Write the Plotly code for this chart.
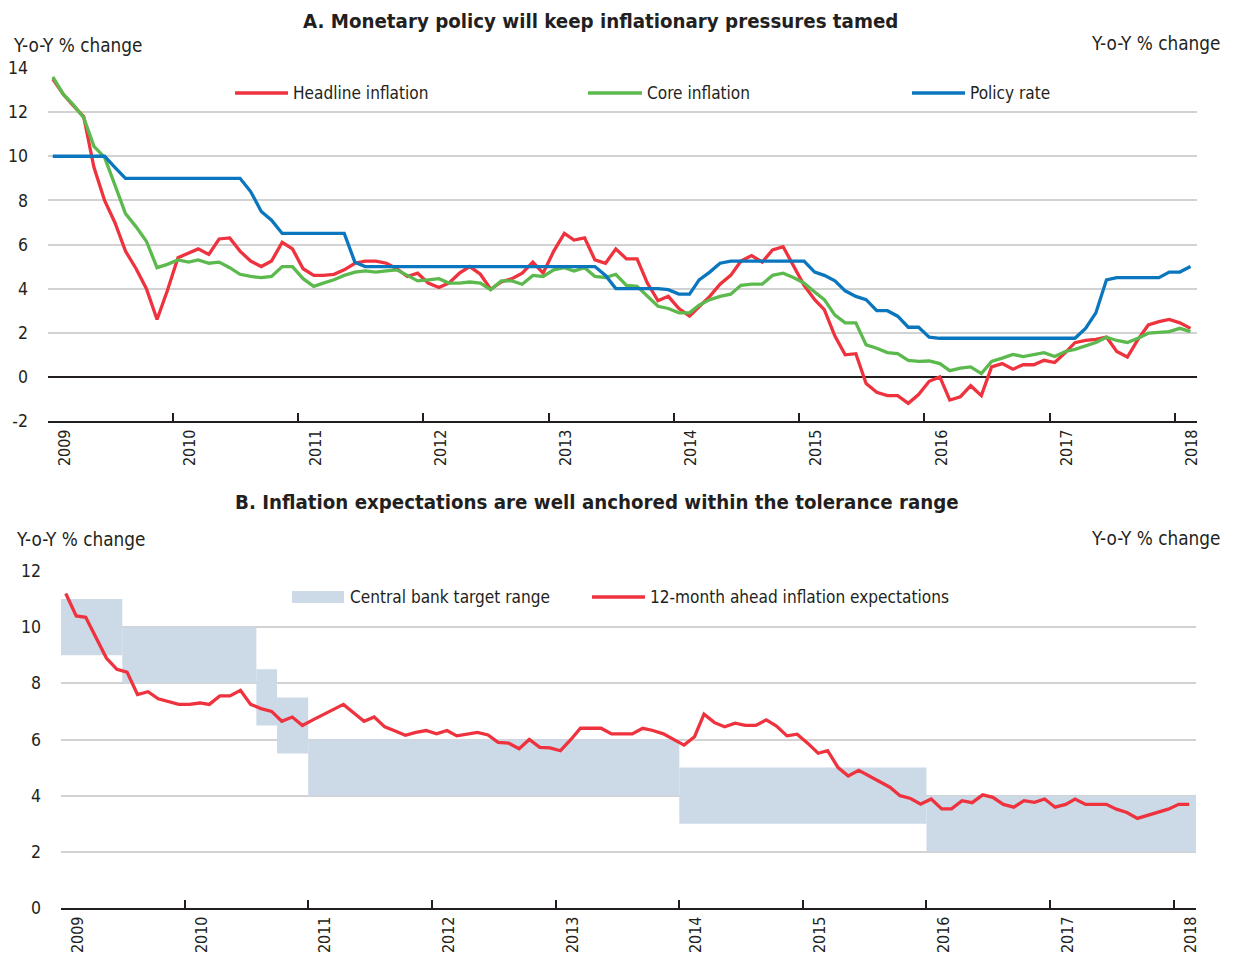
import pandas as pd
import plotly.graph_objects as go

# ---------------------------------------------------------------- data
months = pd.date_range("2009-01-01", "2018-02-01", freq="MS") + pd.Timedelta(days=14)

headline = [13.5, 12.8, 12.3, 11.8, 9.5, 8.0, 7.0, 5.7, 4.9, 4.0, 2.6, 3.9,
            5.4, 5.6, 5.8, 5.55, 6.25, 6.3, 5.7, 5.25, 5.0, 5.25, 6.1, 5.8,
            4.9, 4.6, 4.6, 4.65, 4.85, 5.15, 5.25, 5.25, 5.15, 4.9, 4.55, 4.7,
            4.25, 4.05, 4.25, 4.7, 5.0, 4.65, 3.97, 4.3, 4.45, 4.7, 5.2, 4.7,
            5.7, 6.5, 6.2, 6.3, 5.3, 5.15, 5.8, 5.35, 5.35, 4.25, 3.45, 3.65,
            3.1, 2.75, 3.2, 3.65, 4.2, 4.6, 5.25, 5.5, 5.2, 5.75, 5.9, 5.0,
            4.15, 3.5, 3.05, 1.85, 1.0, 1.05, -0.3, -0.7, -0.85, -0.85, -1.2, -0.8,
            -0.2, 0.0, -1.05, -0.9, -0.4, -0.85, 0.45, 0.6, 0.35, 0.55, 0.55, 0.75,
            0.65, 1.1, 1.55, 1.65, 1.7, 1.8, 1.15, 0.9, 1.7, 2.35, 2.5, 2.6,
            2.45, 2.2]

core = [13.6, 12.8, 12.35, 11.75, 10.45, 9.95, 8.7, 7.4, 6.8, 6.15, 4.95, 5.1,
        5.3, 5.2, 5.3, 5.15, 5.2, 4.95, 4.65, 4.55, 4.5, 4.55, 5.0, 5.0,
        4.45, 4.1, 4.25, 4.4, 4.6, 4.75, 4.8, 4.75, 4.8, 4.85, 4.6, 4.35,
        4.4, 4.45, 4.25, 4.25, 4.3, 4.25, 3.95, 4.35, 4.35, 4.2, 4.6, 4.55,
        4.85, 4.95, 4.8, 4.95, 4.55, 4.5, 4.65, 4.15, 4.1, 3.65, 3.2, 3.1,
        2.9, 2.9, 3.25, 3.5, 3.65, 3.75, 4.15, 4.2, 4.2, 4.6, 4.7, 4.5,
        4.25, 3.85, 3.5, 2.8, 2.45, 2.45, 1.45, 1.3, 1.1, 1.05, 0.75, 0.7,
        0.72, 0.6, 0.28, 0.4, 0.45, 0.15, 0.7, 0.85, 1.02, 0.92, 1.02, 1.1,
        0.92, 1.15, 1.25, 1.42, 1.56, 1.8, 1.65, 1.56, 1.75, 1.98, 2.02, 2.05,
        2.2, 2.05]

policy = [10.0, 10.0, 10.0, 10.0, 10.0, 10.0, 9.5, 9.0, 9.0, 9.0, 9.0, 9.0,
          9.0, 9.0, 9.0, 9.0, 9.0, 9.0, 9.0, 8.4, 7.5, 7.1, 6.5, 6.5,
          6.5, 6.5, 6.5, 6.5, 6.5, 5.2, 5.0, 5.0, 5.0, 5.0, 5.0, 5.0,
          5.0, 5.0, 5.0, 5.0, 5.0, 5.0, 5.0, 5.0, 5.0, 5.0, 5.0, 5.0,
          5.0, 5.0, 5.0, 5.0, 5.0, 4.6, 4.0, 4.0, 4.0, 4.0, 4.0, 3.95,
          3.75, 3.75, 4.4, 4.75, 5.15, 5.25, 5.25, 5.25, 5.25, 5.25, 5.25, 5.25,
          5.25, 4.75, 4.6, 4.35, 3.9, 3.65, 3.5, 3.0, 3.0, 2.75, 2.25, 2.25,
          1.8, 1.75, 1.75, 1.75, 1.75, 1.75, 1.75, 1.75, 1.75, 1.75, 1.75, 1.75,
          1.75, 1.75, 1.75, 2.2, 2.9, 4.4, 4.5, 4.5, 4.5, 4.5, 4.5, 4.75,
          4.75, 5.0]

expectations = [11.2, 10.4, 10.35, 9.6, 8.9, 8.5, 8.4, 7.6, 7.7, 7.45, 7.35, 7.25,
                7.25, 7.3, 7.25, 7.55, 7.55, 7.75, 7.25, 7.1, 7.0, 6.65, 6.8, 6.5,
                6.7, 6.9, 7.05, 7.25, 6.95, 6.65, 6.8, 6.45, 6.3, 6.15, 6.25, 6.32,
                6.2, 6.32, 6.13, 6.2, 6.25, 6.16, 5.9, 5.87, 5.67, 6.0, 5.72, 5.7,
                5.6, 6.0, 6.4, 6.4, 6.4, 6.2, 6.2, 6.2, 6.4, 6.32, 6.2, 6.0,
                5.8, 6.1, 6.9, 6.6, 6.45, 6.58, 6.5, 6.5, 6.7, 6.48, 6.13, 6.19,
                5.87, 5.51, 5.6, 5.0, 4.7, 4.9, 4.7, 4.5, 4.3, 4.0, 3.9, 3.7,
                3.88, 3.53, 3.53, 3.82, 3.75, 4.03, 3.94, 3.69, 3.59, 3.82, 3.76, 3.88,
                3.59, 3.69, 3.88, 3.69, 3.69, 3.69, 3.52, 3.4, 3.19, 3.29, 3.41, 3.52,
                3.69, 3.69]

# central bank target range: start, end, lower and upper bound
band_start = ["2009-01-01", "2009-07-01", "2010-08-01", "2010-10-01",
              "2011-01-01", "2014-01-01", "2016-01-01"]
band_end = ["2009-07-01", "2010-08-01", "2010-10-01", "2011-01-01",
            "2014-01-01", "2016-01-01", "2018-03-07"]
band_low = [9, 8, 6.5, 5.5, 4, 3, 2]
band_high = [11, 10, 8.5, 7.5, 6, 5, 4]

years = list(range(2009, 2019))
year_ticks = [f"{y}-01-01" for y in years]
year_labels = [str(y) for y in years]

ticks_a = [-2, 0, 2, 4, 6, 8, 10, 12, 14]
ticks_b = [0, 2, 4, 6, 8, 10, 12]

# ---------------------------------------------------------------- style
W, H = 1237, 953
FONT = "DejaVu Sans Condensed, Liberation Sans Narrow, Arial Narrow, sans-serif"
TXT = "#231f20"
RED, GREEN, BLUE, BAND = "#ee323e", "#5cb94e", "#0a76bd", "#ccdae8"
GRID = "#d2d2d2"
XTICK_SIZE = 16
YTICK_SIZE = 17.5


def px(x):
    return x / W


def py(y):
    return 1 - y / H


fig = go.Figure()

# ---------------------------------------------------------------- panel A
for name, vals, col in [("Headline inflation", headline, RED),
                        ("Core inflation", core, GREEN),
                        ("Policy rate", policy, BLUE)]:
    fig.add_trace(go.Scatter(x=months, y=vals, name=name, mode="lines",
                             line=dict(color=col, width=3.3),
                             xaxis="x", yaxis="y", showlegend=False))

# ---------------------------------------------------------------- panel B
s = pd.to_datetime(band_start)
e = pd.to_datetime(band_end)
mid = s + (e - s) / 2
widths = [(b - a).total_seconds() * 1000 for a, b in zip(s, e)]
fig.add_trace(go.Bar(x=mid, y=[h - l for h, l in zip(band_high, band_low)],
                     base=band_low, width=widths, marker=dict(color=BAND, line=dict(width=0)),
                     name="Central bank target range", xaxis="x2", yaxis="y2",
                     showlegend=False))
fig.add_trace(go.Scatter(x=months, y=expectations, mode="lines",
                         name="12-month ahead inflation expectations",
                         line=dict(color=RED, width=3.3),
                         xaxis="x2", yaxis="y2", showlegend=False))

xfont = dict(family=FONT, size=XTICK_SIZE, color=TXT)
yfont = dict(family=FONT, size=YTICK_SIZE, color=TXT)
xcommon = dict(type="date", tickmode="array", tickvals=year_ticks, ticktext=year_labels,
               tickangle=-90, ticks="inside", ticklen=8, tickwidth=2, tickcolor=TXT,
               showline=True, linecolor=TXT, linewidth=2.2, showgrid=False,
               zeroline=False, ticklabelshift=17, ticklabelstandoff=0,
               tickfont=xfont, fixedrange=True, automargin=False)
ycommon = dict(tickmode="array", showgrid=True, gridcolor=GRID, gridwidth=1.6,
               ticks="", showline=False, tickfont=yfont, fixedrange=True,
               automargin=False)
yright = dict(tickmode="array", showgrid=False, zeroline=False, ticks="",
              showline=False, ticklabelstandoff=17, tickfont=yfont,
              fixedrange=True, automargin=False)
lab_a = [str(v) for v in ticks_a]
lab_b = [str(v) for v in ticks_b]

fig.update_layout(
    template="none",
    width=W, height=H, margin=dict(l=0, r=0, t=0, b=0, pad=0), autosize=False,
    paper_bgcolor="white", plot_bgcolor="white",
    font=dict(family=FONT, color=TXT), barmode="overlay",
    xaxis=dict(domain=[px(48), px(1197)], anchor="y",
               range=["2009-01-01", "2018-03-06"], **xcommon),
    yaxis=dict(domain=[py(421), py(68)], anchor="x", range=[-2, 14],
               tickvals=ticks_a, ticktext=lab_a,
               zeroline=True, zerolinecolor=TXT, zerolinewidth=2.2,
               ticklabelstandoff=19, **ycommon),
    yaxis3=dict(overlaying="y", side="right", anchor="x", range=[-2, 14],
                tickvals=ticks_a, ticktext=lab_a, **yright),
    xaxis2=dict(domain=[px(61), px(1196)], anchor="y2",
                range=["2009-01-01", "2018-03-07"], **xcommon),
    yaxis2=dict(domain=[py(908), py(571)], anchor="x2", range=[0, 12],
                tickvals=ticks_b, ticktext=lab_b,
                zeroline=False, ticklabelstandoff=19, **ycommon),
    yaxis4=dict(overlaying="y2", side="right", anchor="x2", range=[0, 12],
                tickvals=ticks_b, ticktext=lab_b, **yright),
)

# ---------------------------------------------------------------- text
ann = []


def text(t, x, y, xanchor="left", size=18.8, bold=False):
    ann.append(dict(text=f"<b>{t}</b>" if bold else t, x=px(x), y=py(y),
                    xref="paper", yref="paper", xanchor=xanchor, yanchor="middle",
                    showarrow=False, font=dict(family=FONT, size=size, color=TXT)))


text("A. Monetary policy will keep inflationary pressures tamed", 600, 21,
     xanchor="center", size=20.3, bold=True)
text("B. Inflation expectations are well anchored within the tolerance range", 597, 502,
     xanchor="center", size=20.3, bold=True)
text("Y-o-Y % change", 11, 45)
text("Y-o-Y % change", 1222, 43, xanchor="right")
text("Y-o-Y % change", 14, 539)
text("Y-o-Y % change", 1222, 538, xanchor="right")

# legend entries
LEG = 17.1
shapes = []
for x0, x1, col, label in [(235, 288, RED, "Headline inflation"),
                           (588, 642, GREEN, "Core inflation"),
                           (912, 965, BLUE, "Policy rate")]:
    shapes.append(dict(type="line", xref="paper", yref="paper", x0=px(x0), x1=px(x1),
                       y0=py(93), y1=py(93), line=dict(color=col, width=3.3)))
    text(label, x1 + 3, 93, size=LEG)

shapes.append(dict(type="rect", xref="paper", yref="paper", x0=px(292), x1=px(344),
                   y0=py(603), y1=py(591), fillcolor=BAND, line=dict(width=0)))
text("Central bank target range", 348, 597, size=LEG)
shapes.append(dict(type="line", xref="paper", yref="paper", x0=px(592), x1=px(645),
                   y0=py(597), y1=py(597), line=dict(color=RED, width=3.3)))
text("12-month ahead inflation expectations", 648, 597, size=LEG)

fig.update_layout(annotations=ann, shapes=shapes)

fig.write_html("out.html")
